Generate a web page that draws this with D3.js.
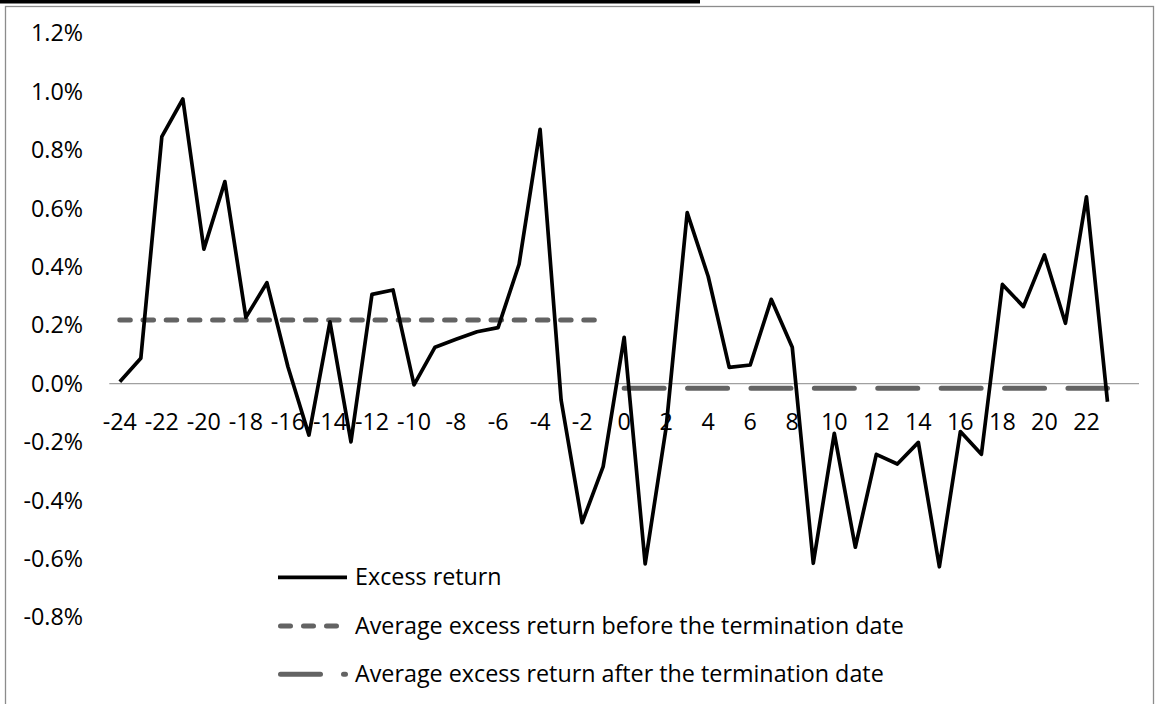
<!DOCTYPE html>
<html>
<head>
<meta charset="utf-8">
<script src="https://cdn.jsdelivr.net/npm/d3@7"></script>
<style>
  html, body { margin: 0; padding: 0; background: #fff; }
  svg { display: block; }
  text { font-family: "Open Sans", "Noto Sans", sans-serif; fill: #000; }
</style>
</head>
<body>
<svg id="chart" width="1155" height="704"></svg>
<script>
// ---- data (percent) ----
const days = [-24,-23,-22,-21,-20,-19,-18,-17,-16,-15,-14,-13,-12,-11,-10,-9,-8,-7,-6,-5,-4,-3,-2,-1,
              0,1,2,3,4,5,6,7,8,9,10,11,12,13,14,15,16,17,18,19,20,21,22,23];
const excessReturn = [0.007,0.087,0.846,0.975,0.461,0.692,0.227,0.346,0.058,-0.176,0.212,-0.199,
                      0.306,0.321,-0.004,0.125,0.152,0.178,0.192,0.409,0.871,-0.056,-0.476,-0.284,
                      0.159,-0.617,-0.149,0.586,0.367,0.056,0.064,0.289,0.125,-0.615,-0.170,-0.560,
                      -0.242,-0.275,-0.201,-0.627,-0.164,-0.242,0.340,0.264,0.441,0.207,0.640,-0.062];
const avgBeforeDays = [-24, -1];
const avgBefore = [0.218, 0.218];
const avgAfterDays = [0, 23];
const avgAfter = [-0.016, -0.016];
const xTickLabels = [-24,-22,-20,-18,-16,-14,-12,-10,-8,-6,-4,-2,0,2,4,6,8,10,12,14,16,18,20,22];
const yTickValues = [1.2,1.0,0.8,0.6,0.4,0.2,0.0,-0.2,-0.4,-0.6,-0.8];
const legendLabels = ["Excess return",
                      "Average excess return before the termination date",
                      "Average excess return after the termination date"];

const svg = d3.select("#chart");
const FONT = 23.3;

// page decorations (document frame)
svg.append("rect").attr("x", 0).attr("y", 0).attr("width", 700).attr("height", 3.5).attr("fill", "#000");
svg.append("rect").attr("x", 5.5).attr("y", 6.5).attr("width", 1148).attr("height", 720)
   .attr("fill", "none").attr("stroke", "#8c8c8c").attr("stroke-width", 1.3);

const x = d3.scaleLinear().domain([-24.5, 24.5]).range([109.3, 1139]);
const y = d3.scaleLinear().domain([-0.8, 1.2]).range([617.3, 33.3]);

// zero axis line
svg.append("line").attr("x1", x(-24.5)).attr("x2", x(24.5)).attr("y1", y(0)).attr("y2", y(0))
   .attr("stroke", "#a0a0a0").attr("stroke-width", 1.2);

// y labels
svg.append("g").selectAll("text").data(yTickValues).join("text")
  .attr("x", 83).attr("y", d => y(d)).attr("dy", "0.35em")
  .attr("text-anchor", "end").attr("font-size", FONT)
  .text(d => d.toFixed(1) + "%");

// x labels
svg.append("g").selectAll("text").data(xTickLabels).join("text")
  .attr("x", d => x(d)).attr("y", y(0) + 38).attr("dy", "0.35em")
  .attr("text-anchor", "middle").attr("font-size", FONT)
  .text(d => d);

const line = d3.line().x(d => x(d[0])).y(d => y(d[1]));

// average lines
svg.append("path").datum(avgBeforeDays.map((d, i) => [d, avgBefore[i]]))
  .attr("d", line).attr("fill", "none").attr("stroke", "#636363").attr("stroke-width", 5)
  .attr("stroke-linecap", "round").attr("stroke-dasharray", "10.5,12.7");
svg.append("path").datum(avgAfterDays.map((d, i) => [d, avgAfter[i]]))
  .attr("d", line).attr("fill", "none").attr("stroke", "#636363").attr("stroke-width", 5)
  .attr("stroke-linecap", "round").attr("stroke-dasharray", "40,23.4");

// main series
svg.append("path").datum(days.map((d, i) => [d, excessReturn[i]]))
  .attr("d", line).attr("fill", "none").attr("stroke", "#000").attr("stroke-width", 3.7)
  .attr("stroke-linejoin", "round");

// legend
const lg = svg.append("g");
const legY = [577.3, 626, 674.3];
lg.append("line").attr("x1", 278).attr("x2", 347).attr("y1", legY[0]).attr("y2", legY[0])
  .attr("stroke", "#000").attr("stroke-width", 3.7);
lg.append("line").attr("x1", 280.5).attr("x2", 337.5).attr("y1", legY[1]).attr("y2", legY[1])
  .attr("stroke", "#636363").attr("stroke-width", 5).attr("stroke-linecap", "round")
  .attr("stroke-dasharray", "10,13");
lg.append("line").attr("x1", 280.5).attr("x2", 345.5).attr("y1", legY[2]).attr("y2", legY[2])
  .attr("stroke", "#636363").attr("stroke-width", 5).attr("stroke-linecap", "round")
  .attr("stroke-dasharray", "40,23");
lg.selectAll("text").data(legendLabels).join("text")
  .attr("x", 355).attr("y", (d, i) => legY[i]).attr("dy", "0.35em")
  .attr("font-size", FONT).text(d => d);
</script>
</body>
</html>
